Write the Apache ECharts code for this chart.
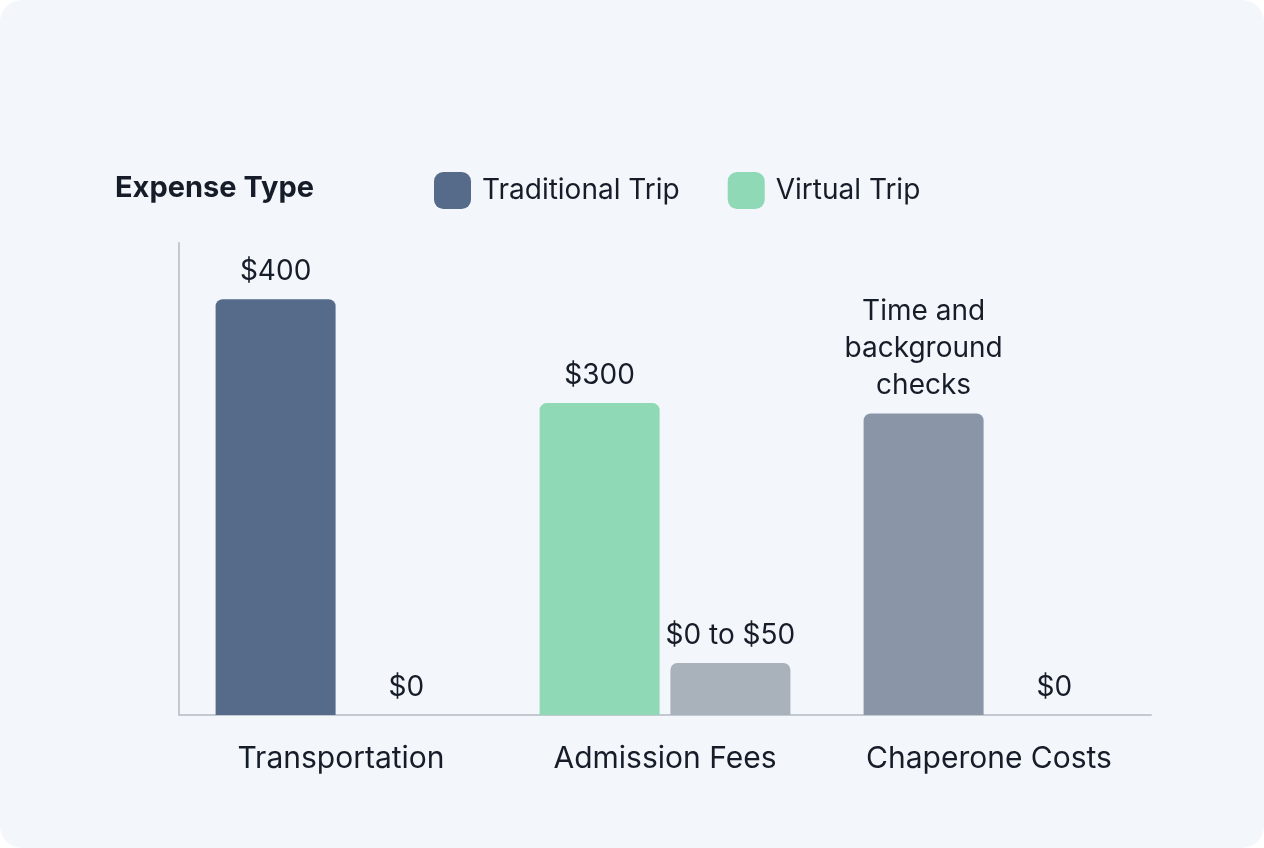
<!DOCTYPE html>
<html>
<head>
<meta charset="utf-8">
<script src="https://cdn.jsdelivr.net/npm/echarts@6/dist/echarts.min.js"></script>
<style>
  html, body { margin: 0; padding: 0; background: #ffffff; }
  #main { width: 1264px; height: 848px; background: #f3f6fa; border-radius: 22px; overflow: hidden; }
</style>
</head>
<body>
<div id="main"></div>
<script>
// 数据
var categories = ['Transportation', 'Admission Fees', 'Chaperone Costs']
var traditionalValues = [400, 300, 290]
var virtualValues = [0, 50, 0]
var traditionalLabels = ['$400', '$300', 'Time and\nbackground\nchecks']
var virtualLabels = ['$0', '$0 to $50', '$0']
var traditionalColors = ['#566b8a', '#8fd9b6', '#8a96a8']
var virtualColors = ['#8fd9b6', '#a9b1ba', '#8fd9b6']

var chart = echarts.init(document.getElementById('main'), null, { renderer: 'canvas' })

function buildData(values, colors, labels) {
  return values.map(function (v, i) {
    return {
      value: v,
      itemStyle: { color: colors[i] },
      label: { formatter: labels[i] }
    }
  })
}

var labelStyle = {
  show: true,
  position: 'top',
  distance: 9,
  color: '#161d29',
  fontSize: 28,
  lineHeight: 37,
  fontFamily: 'Inter'
}

var option = {
  backgroundColor: 'transparent',
  textStyle: { fontFamily: 'Inter' },
  title: {
    text: 'Expense Type',
    left: 110,
    top: 169,
    textStyle: { fontSize: 29, fontWeight: 'bold', color: '#161d29', fontFamily: 'Inter' }
  },
  legend: {
    left: 429,
    top: 167,
    icon: 'roundRect',
    itemWidth: 37,
    itemHeight: 37,
    itemGap: 48,
    textStyle: { fontSize: 28, color: '#161d29', padding: [0, 0, 0, 6], fontFamily: 'Inter' },
    data: [
      { name: 'Traditional Trip', itemStyle: { color: '#566b8a' } },
      { name: 'Virtual Trip', itemStyle: { color: '#8fd9b6' } }
    ]
  },
  grid: {
    left: 179,
    right: 113,
    top: 243,
    bottom: 133,
    containLabel: false
  },
  xAxis: {
    type: 'category',
    data: categories,
    axisTick: { show: false },
    axisLine: { show: true, lineStyle: { color: '#c3c9d1', width: 2 } },
    axisLabel: { color: '#161d29', fontSize: 30, margin: 29, fontFamily: 'Inter' },
    splitLine: { show: false }
  },
  yAxis: {
    type: 'value',
    min: 0,
    max: 454,
    axisLine: { show: true, lineStyle: { color: '#c3c9d1', width: 2 } },
    axisTick: { show: false },
    axisLabel: { show: false },
    splitLine: { show: false }
  },
  series: [
    {
      name: 'Traditional Trip',
      type: 'bar',
      barWidth: 120,
      barGap: '9%',
      itemStyle: { borderRadius: [7, 7, 0, 0] },
      label: labelStyle,
      data: buildData(traditionalValues, traditionalColors, traditionalLabels)
    },
    {
      name: 'Virtual Trip',
      type: 'bar',
      barWidth: 120,
      itemStyle: { borderRadius: [7, 7, 0, 0] },
      label: labelStyle,
      data: buildData(virtualValues, virtualColors, virtualLabels)
    }
  ]
}

chart.setOption(option)
</script>
</body>
</html>
